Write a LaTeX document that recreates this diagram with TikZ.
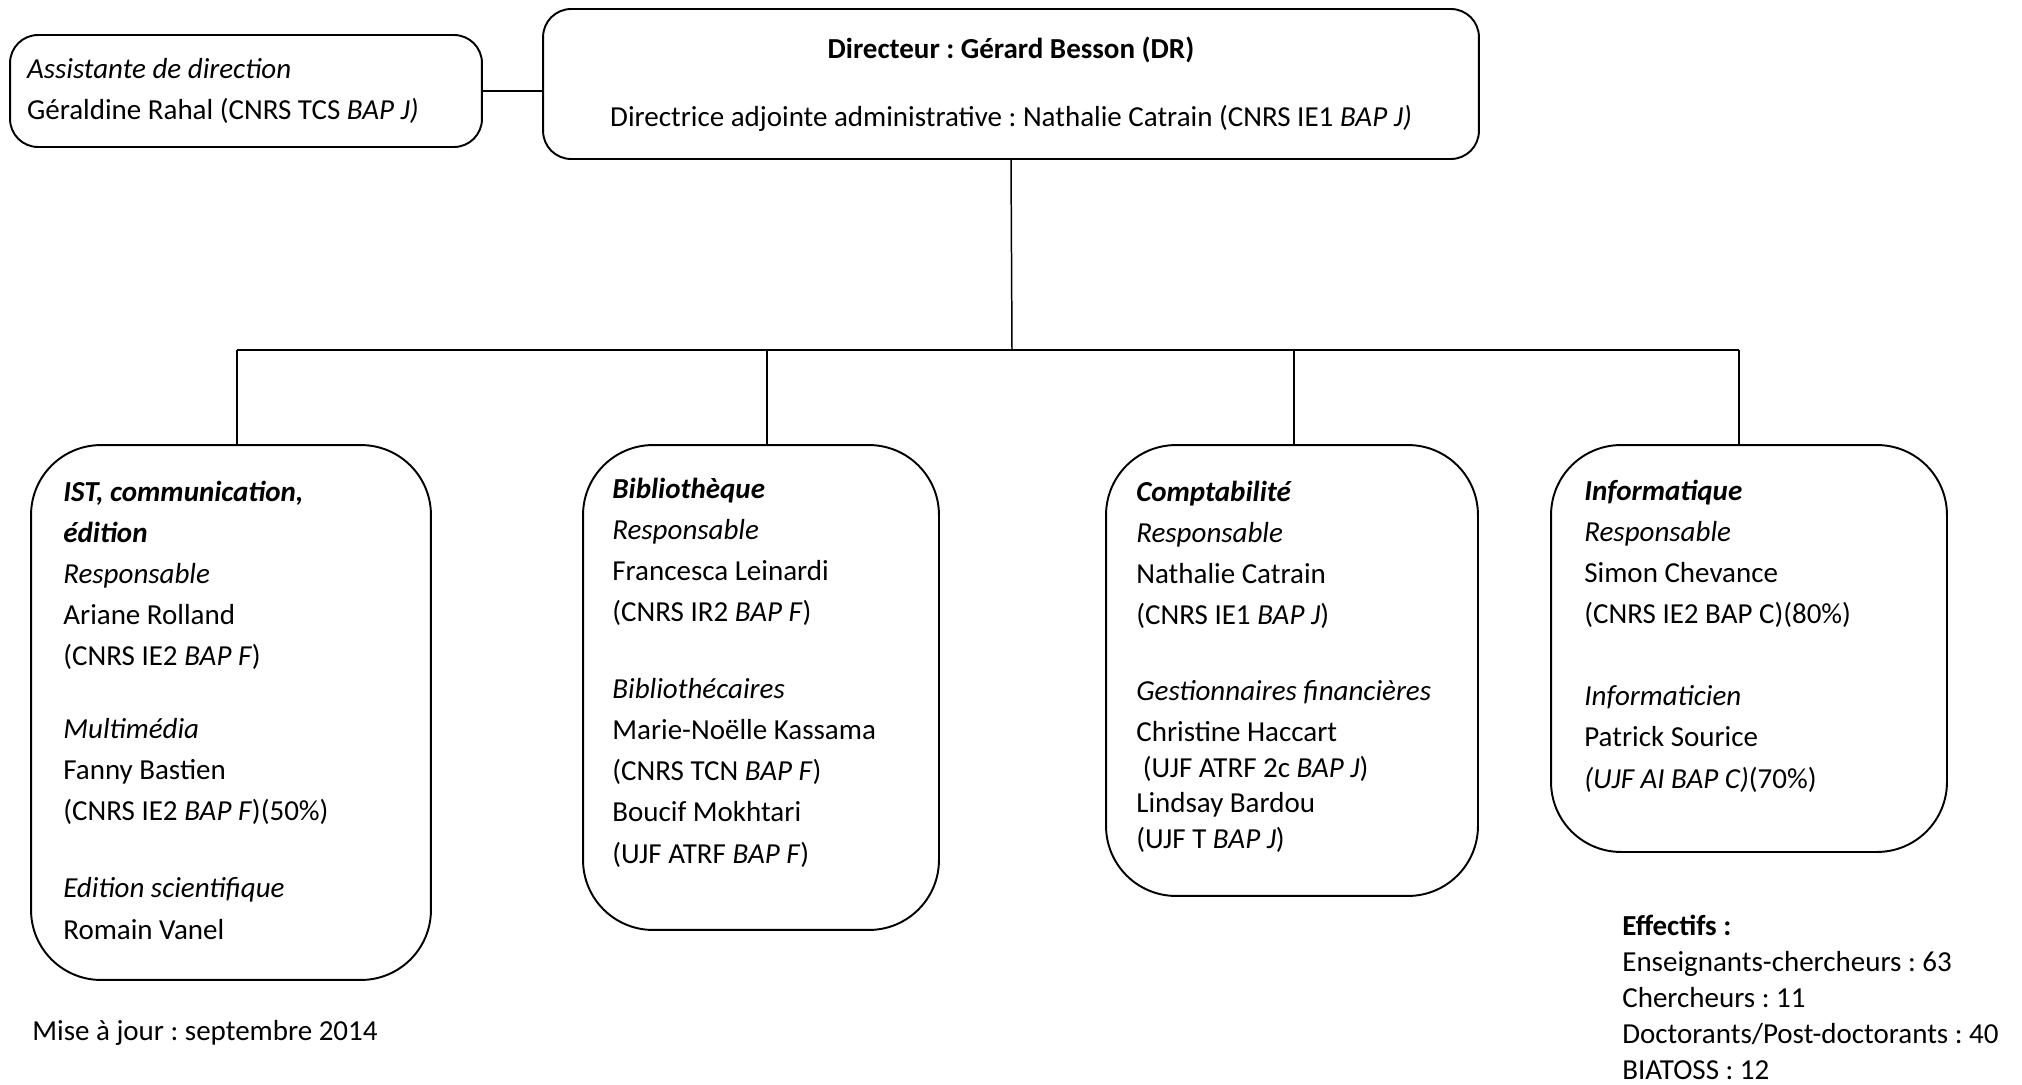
\documentclass[tikz,border=0pt]{standalone}
\usepackage{fontspec}
\setmainfont{Carlito}
\frenchspacing
\usetikzlibrary{positioning}

\begin{document}
\begin{tikzpicture}[x=0.02cm, y=-0.02cm,
    every node/.style={font=\fontsize{16.5}{23.4}\selectfont},
    box/.style={draw, line width=1.1pt, rounded corners=1.4cm, inner sep=0pt},
    topbox/.style={draw, line width=1.1pt, rounded corners=0.56cm},
    txt/.style={anchor=base west, align=left, inner sep=0pt},
    conn/.style={line width=0.85pt}]
    \useasboundingbox (0,0) rectangle (2022,1085);

    % TOP: direction
    \node[topbox, minimum width=18.72cm, minimum height=3cm, align=center,
          font=\fontsize{16.5}{38.6}\selectfont] (dir) at (1011,84)
        {\textbf{Directeur : Gérard Besson (DR)}\\
         Directrice adjointe administrative : Nathalie Catrain (CNRS IE1 \textit{BAP J)}};
    \node[topbox, minimum height=2.24cm, text width=8.76cm, inner xsep=0.34cm,
          align=flush left] (asst) at (246,91)
        {\textit{Assistante de direction}\\
         Géraldine Rahal (CNRS TCS \textit{BAP J)}};
    \draw[conn] (asst.east) -- (asst.east -| dir.west);

    % SERVICES: the four boxes
    \node[box, minimum width=8cm, minimum height=10.7cm] (ist) at (231,712.5) {};
    \node[box, minimum width=7.12cm, minimum height=9.7cm] (bib) at (761,687.5) {};
    \node[box, minimum width=7.44cm, minimum height=9.02cm] (compta) at (1292,670.5) {};
    \node[box, minimum width=7.92cm, minimum height=8.14cm] (info) at (1749,648.5) {};

    % Tree lines
    \coordinate (bar) at (1012,350);
    \draw[conn] (dir.south) -- (bar);
    \draw[line width=1.6pt] ([xshift=0.12cm]ist.north |- bar) -- ([xshift=-0.2cm]info.north |- bar);
    \foreach \b/\dx in {ist/0.12,bib/0.12,compta/0.04,info/-0.2}
        \draw[conn] ([xshift=\dx cm]\b.north |- bar) -- ([xshift=\dx cm]\b.north);

    % Box contents (base = last line)
    \node[txt] (ist-txt) at (63,939)
        {\textbf{\textit{IST, communication,}}\\
         \textbf{\textit{édition}}\\
         \textit{Responsable}\\
         Ariane Rolland\\
         (CNRS IE2 \textit{BAP F})\\[18pt]
         \textit{Multimédia}\\
         Fanny Bastien\\
         (CNRS IE2 \textit{BAP F})(50\%)\\[20.4pt]
         \textit{Edition scientifique}\\
         Romain Vanel};
    \node[txt] (bib-txt) at (612,863)
        {\textbf{\textit{Bibliothèque}}\\
         \textit{Responsable}\\
         Francesca Leinardi\\
         (CNRS IR2 \textit{BAP F})\\[20.4pt]
         \textit{Bibliothécaires}\\
         Marie-Noëlle Kassama\\
         (CNRS TCN \textit{BAP F})\\
         Boucif Mokhtari\\
         (UJF ATRF \textit{BAP F})};
    \node[txt] (compta-txt) at (1136,848)
        {\textbf{\textit{Comptabilité}}\\
         \textit{Responsable}\\
         Nathalie Catrain\\
         (CNRS IE1 \textit{BAP J})\\[19.8pt]
         \textit{Gestionnaires financières}\\
         Christine Haccart\\[-3.2pt]
         \ (UJF ATRF 2c \textit{BAP J})\\[-3.2pt]
         Lindsay Bardou\\[-3.2pt]
         (UJF T \textit{BAP J})};
    \node[txt] (info-txt) at (1584,788)
        {\textbf{\textit{Informatique}}\\
         \textit{Responsable}\\
         Simon Chevance\\
         (CNRS IE2 BAP C)(80\%)\\[23.2pt]
         \textit{Informaticien}\\
         Patrick Sourice\\
         \textit{(UJF AI BAP C)}(70\%)};

    % BOTTOM: notes
    \node[txt] (maj) at (32,1040) {Mise à jour : septembre 2014};
    \node[txt, font=\fontsize{16.5}{20.4}\selectfont] (eff) at (1622,1079)
        {\textbf{Effectifs :}\\
         Enseignants-chercheurs : 63\\
         Chercheurs : 11\\
         Doctorants/Post-doctorants : 40\\
         BIATOSS : 12};
\end{tikzpicture}
\end{document}
